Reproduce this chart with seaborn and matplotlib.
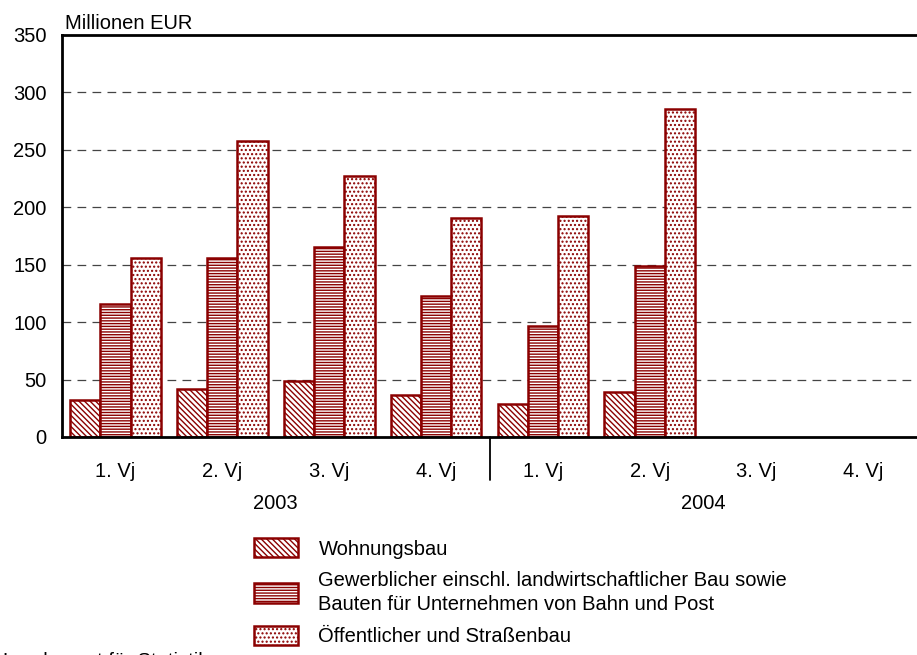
import numpy as np
import pandas as pd
import matplotlib
matplotlib.use("Agg")
import matplotlib.pyplot as plt
import matplotlib.patches as mpatches
import seaborn as sns

quarters = ["1. Vj", "2. Vj", "3. Vj", "4. Vj", "1. Vj", "2. Vj", "3. Vj", "4. Vj"]
years = ["2003", "2004"]
series = ["Wohnungsbau",
          "Gewerblicher einschl. landwirtschaftlicher Bau sowie\nBauten für Unternehmen von Bahn und Post",
          "Öffentlicher und Straßenbau"]
wohnungsbau = [32, 42, 49, 37, 29, 39, np.nan, np.nan]
gewerbe = [116, 156, 165, 123, 97, 149, np.nan, np.nan]
oeffentlich = [156, 258, 227, 191, 192, 286, np.nan, np.nan]

sns.set_theme(style="white")
plt.rcParams['font.family'] = ['Liberation Sans', 'DejaVu Sans']
plt.rcParams['text.color'] = 'black'
plt.rcParams['axes.labelcolor'] = 'black'
plt.rcParams['hatch.color'] = '#8B0000'
plt.rcParams['hatch.linewidth'] = 1.0

cat_ids = [f"{years[i // 4]} {q}" for i, q in enumerate(quarters)]
rows = []
for vals, s in zip([wohnungsbau, gewerbe, oeffentlich], series):
    for c, v in zip(cat_ids, vals):
        rows.append({"cat": c, "series": s, "value": v})
df = pd.DataFrame(rows)

fig = plt.figure(figsize=(9.17, 6.55), dpi=100)
ax = fig.add_axes([62 / 917, (655 - 437) / 655, 1 - 62 / 917, (437 - 35) / 655])

dark = "#8B0000"
FS = 14.5
sns.barplot(data=df, x="cat", y="value", hue="series", order=cat_ids, hue_order=series,
            palette=["white"] * 3, width=0.85, edgecolor=dark, linewidth=1.8,
            legend=False, ax=ax)
hatches = ["\\\\\\\\\\\\", "------", "...."]
for cont, h in zip(ax.containers, hatches):
    for p in cont:
        p.set_hatch(h)
        p.set_edgecolor(dark)

ax.set_ylim(0, 350)
ax.set_xlim(-0.5, 7.5)
ax.set_yticks(range(0, 351, 50))
ax.set_xticks(range(8))
ax.set_xticklabels(quarters)
ax.tick_params(axis='x', length=0, pad=18, labelsize=FS, colors='black')
ax.tick_params(axis='y', length=0, pad=11, labelsize=FS, colors='black')
ax.set_xlabel("")
ax.set_ylabel("")
for y in range(50, 301, 50):
    ax.axhline(y, color='#444444', linestyle=(0, (7, 5)), linewidth=0.9, zorder=0)

for s in ['left', 'top', 'bottom']:
    ax.spines[s].set_visible(True)
    ax.spines[s].set_color('black')
    ax.spines[s].set_linewidth(2)
ax.spines['right'].set_visible(False)

trans = ax.get_xaxis_transform()
ax.plot([3.5, 3.5], [0, -0.107], color='black', linewidth=1.3, transform=trans, clip_on=False)
ax.text(1.5, -0.166, years[0], transform=trans, ha='center', va='center', fontsize=FS, color='black')
ax.text(5.5, -0.166, years[1], transform=trans, ha='center', va='center', fontsize=FS, color='black')
ax.text(0.003, 1.005, "Millionen EUR", transform=ax.transAxes, ha='left', va='bottom',
        fontsize=FS, color='black')

handles = [mpatches.Patch(facecolor='white', edgecolor=dark, hatch=h, linewidth=1.8) for h in hatches]
leg = fig.legend(handles, series, loc='upper left', bbox_to_anchor=(246 / 917, 1 - 530 / 655),
                 frameon=False, fontsize=FS, handlelength=2.2, handleheight=1.1,
                 handletextpad=1.0, labelspacing=0.6, borderaxespad=0)
for t in leg.get_texts():
    t.set_linespacing(1.35)
    t.set_color('black')

fig.text(0.003, 0.004, "Landesamt für Statistik", ha='left', va='top', fontsize=FS, color='black')

fig.savefig("out.png", dpi=100)
